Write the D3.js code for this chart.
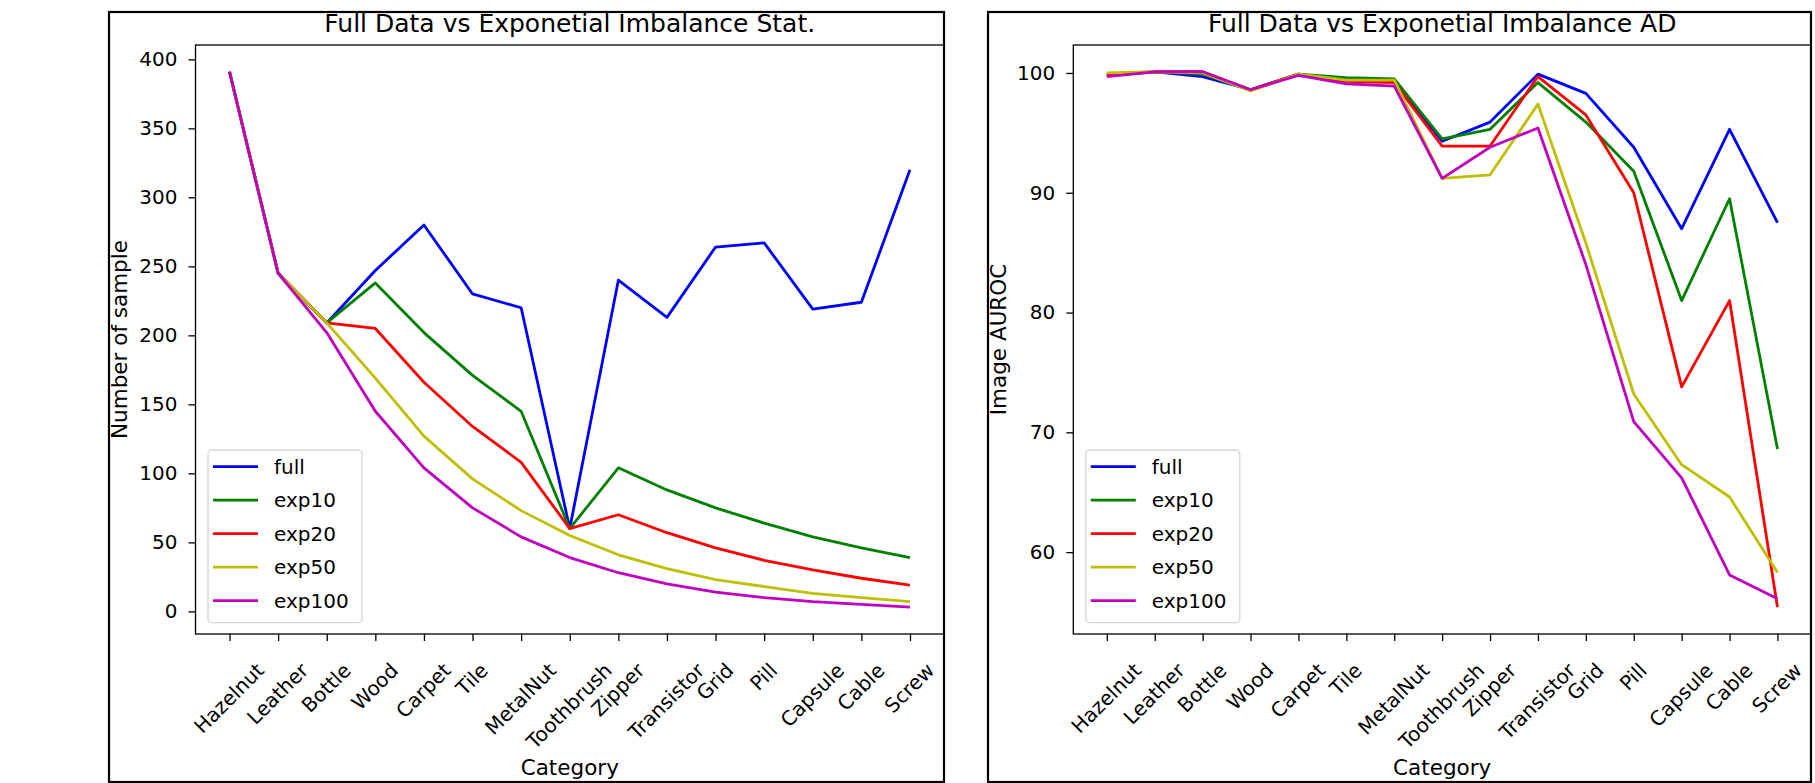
<!DOCTYPE html>
<html lang="en">
<head>
  <meta charset="UTF-8" />
  <title>Full Data vs Exponetial Imbalance</title>
  <script src="https://d3js.org/d3.v7.min.js"></script>
  <style>
    body { margin: 0; background: #fff; }
    text { font-family: "DejaVu Sans", sans-serif; fill: #000; }
  </style>
</head>
<body>
  <div id="chart"></div>
  <script>
    // ---- data ----
    var categories = ["Hazelnut", "Leather", "Bottle", "Wood", "Carpet", "Tile", "MetalNut",
      "Toothbrush", "Zipper", "Transistor", "Grid", "Pill", "Capsule", "Cable", "Screw"];
    var seriesNames = ["full", "exp10", "exp20", "exp50", "exp100"];
    var seriesColors = ["#0000ff", "#008000", "#ff0000", "#bfbf00", "#bf00bf"];

    // number of samples per category
    var countFull   = [391, 245, 209, 247, 280, 230, 220, 60, 240, 213, 264, 267, 219, 224, 320];
    var countExp10  = [391, 245, 209, 238, 202, 171, 145, 60, 104, 88, 75, 64, 54, 46, 39];
    var countExp20  = [391, 245, 209, 205, 166, 134, 108, 60, 70, 57, 46, 37, 30, 24, 19];
    var countExp50  = [391, 245, 209, 169, 127, 96, 73, 55, 41, 31, 23, 18, 13, 10, 7];
    var countExp100 = [391, 245, 202, 145, 104, 75, 54, 39, 28, 20, 14, 10, 7, 5, 3];
    var countTicks  = [0, 50, 100, 150, 200, 250, 300, 350, 400];

    // image AUROC per category
    var aurocFull   = [99.8, 100.1, 99.7, 98.6, 99.9, 99.4, 99.3, 94.3, 95.9, 99.9, 98.3, 93.8, 87.0, 95.3, 87.5];
    var aurocExp10  = [99.9, 100.1, 99.9, 98.6, 99.9, 99.6, 99.5, 94.5, 95.3, 99.2, 95.9, 91.8, 81.0, 89.5, 68.6];
    var aurocExp20  = [99.8, 100.1, 100.1, 98.6, 99.9, 99.3, 99.2, 93.9, 93.9, 99.7, 96.5, 90.0, 73.8, 81.0, 55.4];
    var aurocExp50  = [100.0, 100.1, 100.0, 98.5, 99.9, 99.4, 99.4, 91.2, 91.5, 97.4, 85.8, 73.2, 67.3, 64.6, 58.3];
    var aurocExp100 = [99.7, 100.1, 100.1, 98.6, 99.8, 99.1, 98.9, 91.2, 93.8, 95.4, 84.0, 70.9, 66.2, 58.1, 56.1];
    var aurocTicks  = [60, 70, 80, 90, 100];

    // ---- drawing ----
    var svg = d3.select("#chart").append("svg")
      .attr("width", 1815)
      .attr("height", 783)

    var fs = 20      // tick + legend font
    var labelFs = 21.5

    function drawPanel(p) {
      var g = svg.append("g")

      var x = d3.scalePoint()
        .domain(categories)
        .range([p.left, p.right])
        .padding(0.7)

      var all = d3.merge(p.series)
      var ext = d3.extent(all)
      var m = (ext[1] - ext[0]) * 0.05
      var y = d3.scaleLinear()
        .domain([ext[0] - m, ext[1] + m])
        .range([p.bottom, p.top])

      // lines
      var line = d3.line()
        .x(function (d, i) { return x(categories[i]); })
        .y(function (d) { return y(d); })

      p.series.forEach(function (s, k) {
        g.append("path")
          .datum(s)
          .attr("d", line)
          .attr("fill", "none")
          .attr("stroke", seriesColors[k])
          .attr("stroke-width", 2.8)
          .attr("stroke-linejoin", "round")
      })

      // y axis
      var ay = g.append("g")
        .attr("transform", "translate(" + p.left + ",0)")
        .call(d3.axisLeft(y).tickValues(p.ticks).tickSize(7).tickPadding(11))
      ay.select(".domain").remove()
      ay.selectAll("line").attr("stroke", "#000").attr("stroke-width", 1.3)
      ay.selectAll("text").style("font-size", fs + "px").attr("fill", "#000")

      // x axis, labels rotated 45deg and centred under the tick
      var ax = g.append("g")
        .attr("transform", "translate(0," + p.bottom + ")")
        .call(d3.axisBottom(x).tickSize(7))
      ax.select(".domain").remove()
      ax.selectAll("line").attr("stroke", "#000").attr("stroke-width", 1.3)
      ax.selectAll("text")
        .style("font-size", fs + "px")
        .attr("fill", "#000")
        .attr("text-anchor", "end")
        .attr("y", 0)
        .attr("dy", 0)
        .attr("transform", function () {
          var L = this.getComputedTextLength()
          var a = 0.76 * fs, dsc = 0.21 * fs
          var tx = 0.7071 * (L + a - dsc) / 2
          var ty = 27 + 0.7071 * a
          return "translate(" + tx + "," + ty + ") rotate(-45)"
        })

      // spines
      g.append("rect")
        .attr("x", p.left).attr("y", p.top)
        .attr("width", p.right - p.left).attr("height", p.bottom - p.top)
        .attr("fill", "none").attr("stroke", "#000").attr("stroke-width", 1.3)

      // title and labels
      var cx = (p.left + p.right) / 2
      g.append("text")
        .attr("x", cx).attr("y", 32)
        .attr("text-anchor", "middle")
        .style("font-size", "25px")
        .text(p.title)

      g.append("text")
        .attr("x", cx).attr("y", 775)
        .attr("text-anchor", "middle")
        .style("font-size", labelFs + "px")
        .text("Category")

      g.append("text")
        .attr("transform", "translate(" + p.ylabelX + "," + ((p.top + p.bottom) / 2) + ") rotate(-90)")
        .attr("text-anchor", "middle")
        .style("font-size", labelFs + "px")
        .text(p.ylabel)

      // legend
      var lx = p.left + 12.5, ly = p.bottom - 11.3 - 172.7
      var leg = g.append("g").attr("transform", "translate(" + lx + "," + ly + ")")
      leg.append("rect")
        .attr("width", 154).attr("height", 172.7)
        .attr("rx", 4)
        .attr("fill", "#fff").attr("fill-opacity", 0.8)
        .attr("stroke", "#d5d5d5").attr("stroke-width", 1.3)
      seriesNames.forEach(function (n, k) {
        var yy = 16.7 + k * 33.5
        leg.append("line")
          .attr("x1", 5).attr("x2", 50)
          .attr("y1", yy).attr("y2", yy)
          .attr("stroke", seriesColors[k]).attr("stroke-width", 2.8)
        leg.append("text")
          .attr("x", 66).attr("y", yy)
          .attr("dy", "0.35em")
          .style("font-size", fs + "px")
          .text(n)
      })

      // outer frame
      svg.append("rect")
        .attr("x", p.frame[0]).attr("y", p.frame[1])
        .attr("width", p.frame[2] - p.frame[0]).attr("height", p.frame[3] - p.frame[1])
        .attr("fill", "none").attr("stroke", "#000").attr("stroke-width", 2.2)
    }

    drawPanel({
      left: 195.5, right: 944, top: 45, bottom: 634,
      frame: [109, 12, 944, 782],
      title: "Full Data vs Exponetial Imbalance Stat.",
      ylabel: "Number of sample",
      ylabelX: 127,
      ticks: countTicks,
      series: [countFull, countExp10, countExp20, countExp50, countExp100]
    })

    drawPanel({
      left: 1073.3, right: 1811, top: 45, bottom: 634,
      frame: [988, 12, 1811, 782],
      title: "Full Data vs Exponetial Imbalance AD",
      ylabel: "Image AUROC",
      ylabelX: 1006,
      ticks: aurocTicks,
      series: [aurocFull, aurocExp10, aurocExp20, aurocExp50, aurocExp100]
    })
  </script>
</body>
</html>
